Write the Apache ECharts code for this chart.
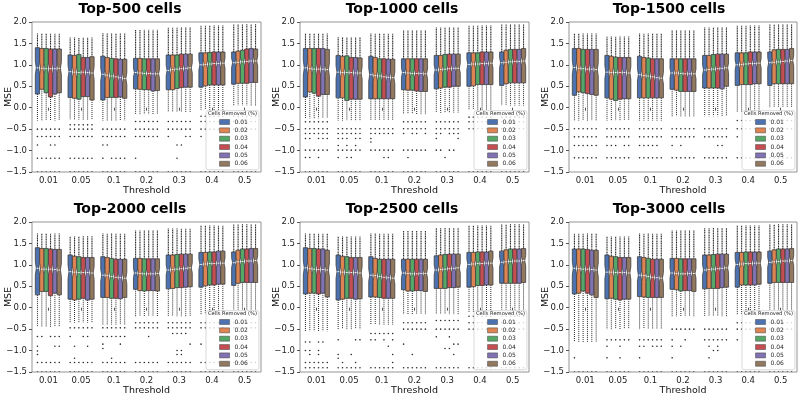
<!DOCTYPE html>
<html><head><meta charset="utf-8">
<script src="https://cdn.jsdelivr.net/npm/echarts@6/dist/echarts.min.js"></script>
<style>html,body{margin:0;padding:0;background:#fff}#c{width:800px;height:400px}</style>
</head><body><div id="c"></div>
<script>
// ---------------- data ----------------
const thresholds = ['0.01', '0.05', '0.1', '0.2', '0.3', '0.4', '0.5'];
const removed = ['0.01', '0.02', '0.03', '0.04', '0.05', '0.06'];
const titles = ['Top-500 cells', 'Top-1000 cells', 'Top-1500 cells', 'Top-2000 cells', 'Top-2500 cells', 'Top-3000 cells'];
const legendTitle = 'Cells Removed (%)';
const xName = 'Threshold';
const yName = 'MSE';
const SAMPLE_N = 110; // sample size used for notch width (1.57*IQR/sqrt(n))

// rows = thresholds, columns = cells removed
const q3_500 = [[1.40,1.38,1.38,1.37,1.37,1.37],[1.23,1.22,1.24,1.17,1.17,1.19],[1.20,1.17,1.15,1.14,1.13,1.13],[1.15,1.15,1.14,1.14,1.14,1.14],[1.23,1.23,1.23,1.25,1.25,1.25],[1.28,1.28,1.29,1.30,1.30,1.30],[1.30,1.32,1.34,1.37,1.38,1.37]];
const med_500 = [[0.93,0.92,0.91,0.91,0.91,0.92],[0.84,0.83,0.82,0.83,0.82,0.81],[0.78,0.76,0.74,0.72,0.70,0.68],[0.82,0.81,0.80,0.80,0.79,0.79],[0.87,0.89,0.90,0.91,0.92,0.93],[1.00,1.01,1.02,1.03,1.03,1.04],[1.05,1.06,1.07,1.08,1.09,1.09]];
const q1_500 = [[0.32,0.43,0.35,0.25,0.32,0.35],[0.24,0.22,0.20,0.26,0.26,0.18],[0.18,0.24,0.24,0.24,0.25,0.22],[0.44,0.43,0.42,0.42,0.39,0.40],[0.42,0.42,0.45,0.47,0.48,0.48],[0.48,0.51,0.53,0.53,0.53,0.53],[0.55,0.57,0.57,0.57,0.59,0.59]];
const hi_500 = [1.73,1.64,1.74,1.82,1.87,1.92,1.95];
const lo_500 = [-0.30,-0.28,-0.30,-0.15,-0.10,-0.05,0.05];
const sparse_500 = [[0,-0.50,'111111'],[0,-0.67,'111111'],[0,-0.87,'100110'],[0,-1.18,'111111'],[0,-1.5,'111111'],
  [1,-0.40,'111111'],[1,-0.50,'111111'],[1,-0.67,'111111'],[1,-1.18,'111111'],[1,-1.5,'111111'],
  [2,-0.50,'111111'],[2,-0.67,'111111'],[2,-0.87,'110000'],[2,-1.18,'101111'],[2,-1.5,'111111'],
  [3,-0.32,'111111'],[3,-0.50,'111111'],[3,-0.67,'111111'],[3,-1.18,'100000'],[3,-1.5,'111111'],
  [4,-0.32,'111111'],[4,-0.50,'111111'],[4,-0.67,'100011'],[4,-0.87,'001100'],[4,-1.18,'001000'],[4,-1.5,'111111'],
  [5,-0.20,'111111'],[5,-0.32,'111111'],[5,-0.50,'111111'],[5,-0.67,'100000'],[5,-1.5,'111111'],
  [6,-0.20,'111111'],[6,-0.32,'111111'],[6,-0.50,'111111'],[6,-1.5,'111111']];

const q3_1000 = [[1.38,1.38,1.38,1.38,1.38,1.36],[1.22,1.20,1.21,1.17,1.17,1.16],[1.20,1.17,1.14,1.14,1.13,1.13],[1.14,1.14,1.14,1.14,1.14,1.14],[1.22,1.22,1.24,1.25,1.25,1.25],[1.28,1.28,1.28,1.30,1.30,1.30],[1.30,1.34,1.36,1.36,1.36,1.38]];
const med_1000 = [[0.93,0.91,0.90,0.90,0.90,0.89],[0.83,0.82,0.82,0.82,0.81,0.81],[0.77,0.75,0.74,0.72,0.71,0.70],[0.82,0.81,0.80,0.80,0.80,0.79],[0.88,0.89,0.90,0.91,0.92,0.92],[1.01,1.02,1.02,1.03,1.03,1.04],[1.05,1.06,1.07,1.08,1.08,1.09]];
const q1_1000 = [[0.25,0.37,0.34,0.27,0.31,0.31],[0.23,0.23,0.17,0.20,0.20,0.20],[0.21,0.21,0.21,0.21,0.21,0.21],[0.42,0.41,0.41,0.39,0.38,0.38],[0.44,0.46,0.48,0.48,0.50,0.50],[0.50,0.51,0.54,0.54,0.54,0.54],[0.52,0.56,0.58,0.58,0.58,0.58]];
const hi_1000 = [1.73,1.65,1.73,1.81,1.87,1.92,1.95];
const lo_1000 = [-0.25,-0.30,-0.30,-0.15,-0.12,-0.05,0.05];
const sparse_1000 = [[0,-0.33,'111111'],[0,-0.49,'111111'],[0,-0.60,'111111'],[0,-0.72,'110111'],[0,-0.99,'111111'],[0,-1.16,'110100'],[0,-1.5,'111111'],
  [1,-0.49,'111111'],[1,-0.60,'111111'],[1,-0.72,'111011'],[1,-0.88,'101010'],[1,-0.99,'111111'],[1,-1.16,'101100'],[1,-1.5,'111111'],
  [2,-0.49,'111111'],[2,-0.60,'111111'],[2,-0.72,'100000'],[2,-0.80,'100000'],[2,-0.99,'111111'],[2,-1.16,'000110'],[2,-1.5,'111111'],
  [3,-0.33,'111111'],[3,-0.49,'111111'],[3,-0.60,'101101'],[3,-0.99,'111111'],[3,-1.16,'010000'],[3,-1.5,'111111'],
  [4,-0.33,'111111'],[4,-0.49,'111111'],[4,-0.60,'110111'],[4,-0.72,'100001'],[4,-0.99,'110110'],[4,-1.16,'001000'],[4,-1.5,'111111'],
  [5,-0.22,'111111'],[5,-0.33,'111111'],[5,-0.49,'111111'],[5,-1.5,'111111'],
  [6,-0.22,'111111'],[6,-0.33,'111111'],[6,-0.49,'111111'],[6,-1.5,'111111']];

const q3_1500 = [[1.38,1.38,1.36,1.36,1.36,1.36],[1.22,1.20,1.18,1.17,1.17,1.17],[1.20,1.17,1.16,1.14,1.14,1.14],[1.14,1.14,1.14,1.14,1.14,1.14],[1.22,1.22,1.24,1.25,1.25,1.25],[1.28,1.28,1.28,1.30,1.30,1.30],[1.30,1.35,1.36,1.36,1.36,1.38]];
const med_1500 = [[0.94,0.92,0.91,0.90,0.90,0.89],[0.83,0.82,0.82,0.82,0.82,0.81],[0.77,0.75,0.74,0.72,0.70,0.69],[0.81,0.81,0.80,0.79,0.79,0.79],[0.88,0.89,0.90,0.91,0.92,0.93],[1.00,1.01,1.02,1.03,1.03,1.04],[1.05,1.06,1.07,1.08,1.09,1.10]];
const q1_1500 = [[0.29,0.37,0.35,0.33,0.31,0.29],[0.23,0.20,0.17,0.20,0.21,0.21],[0.23,0.23,0.23,0.23,0.23,0.23],[0.43,0.41,0.38,0.38,0.38,0.38],[0.46,0.46,0.46,0.46,0.44,0.50],[0.52,0.54,0.54,0.54,0.56,0.56],[0.52,0.56,0.56,0.56,0.56,0.56]];
const hi_1500 = [1.73,1.66,1.73,1.81,1.87,1.92,1.95];
const lo_1500 = [-0.30,-0.30,-0.30,-0.20,-0.20,-0.10,0.00];
const sparse_1500 = [[0,-0.49,'111111'],[0,-0.68,'111111'],[0,-0.88,'111111'],[0,-1.17,'111111'],
  [1,-0.49,'111111'],[1,-0.68,'111111'],[1,-0.88,'111011'],[1,-1.17,'111111'],
  [2,-0.49,'111111'],[2,-0.68,'111111'],[2,-0.88,'111110'],[2,-1.17,'111111'],
  [3,-0.49,'111111'],[3,-0.68,'111111'],[3,-0.88,'101000'],[3,-1.17,'111111'],
  [4,-0.49,'111111'],[4,-0.68,'111111'],[4,-0.88,'000110'],[4,-1.17,'111111'],
  [5,-0.30,'111111'],[5,-0.49,'111111'],[5,-0.68,'100000'],[5,-1.17,'111111'],
  [6,-0.30,'111111'],[6,-0.49,'111111'],[6,-1.17,'111111']];

const q3_2000 = [[1.40,1.38,1.38,1.37,1.36,1.36],[1.23,1.20,1.19,1.17,1.17,1.17],[1.19,1.17,1.15,1.13,1.13,1.13],[1.15,1.15,1.14,1.14,1.14,1.14],[1.23,1.23,1.24,1.25,1.25,1.25],[1.29,1.29,1.30,1.30,1.32,1.32],[1.30,1.34,1.37,1.37,1.38,1.38]];
const med_2000 = [[0.92,0.90,0.90,0.90,0.89,0.88],[0.84,0.83,0.82,0.82,0.82,0.81],[0.76,0.75,0.73,0.71,0.70,0.69],[0.81,0.80,0.79,0.79,0.79,0.80],[0.88,0.89,0.90,0.91,0.92,0.93],[1.01,1.02,1.03,1.03,1.04,1.04],[1.05,1.07,1.08,1.09,1.09,1.10]];
const q1_2000 = [[0.30,0.38,0.38,0.28,0.34,0.30],[0.20,0.18,0.20,0.22,0.18,0.20],[0.24,0.24,0.22,0.22,0.21,0.24],[0.43,0.40,0.39,0.40,0.40,0.39],[0.44,0.45,0.47,0.47,0.48,0.49],[0.48,0.51,0.53,0.53,0.55,0.55],[0.52,0.57,0.59,0.59,0.59,0.59]];
const hi_2000 = [1.73,1.67,1.73,1.80,1.85,1.92,1.95];
const lo_2000 = [-0.45,-0.35,-0.40,-0.20,-0.20,-0.15,-0.05];
const sparse_2000 = [[0,-0.67,'110111'],[0,-0.90,'100011'],[0,-1.01,'100000'],[0,-1.09,'100000'],[0,-1.28,'111111'],[0,-1.5,'111111'],
  [1,-0.47,'111111'],[1,-0.67,'100110'],[1,-0.90,'010010'],[1,-1.18,'010000'],[1,-1.28,'111111'],[1,-1.5,'111111'],
  [2,-0.47,'111111'],[2,-0.67,'111111'],[2,-0.85,'100010'],[2,-0.95,'100000'],[2,-1.18,'001000'],[2,-1.28,'111111'],[2,-1.5,'111111'],
  [3,-0.35,'111111'],[3,-0.47,'111111'],[3,-0.67,'000100'],[3,-1.28,'111111'],[3,-1.5,'111111'],
  [4,-0.35,'111111'],[4,-0.47,'111111'],[4,-0.60,'011110'],[4,-0.85,'000001'],[4,-1.00,'001100'],[4,-1.09,'001100'],[4,-1.28,'111111'],[4,-1.5,'111111'],
  [5,-0.35,'111111'],[5,-0.47,'111111'],[5,-0.85,'100000'],[5,-1.28,'111111'],[5,-1.5,'111111'],
  [6,-0.35,'111111'],[6,-0.47,'111111'],[6,-1.28,'111111'],[6,-1.5,'111111']];

const q3_2500 = [[1.40,1.38,1.38,1.37,1.37,1.34],[1.23,1.20,1.19,1.17,1.17,1.17],[1.19,1.15,1.13,1.13,1.13,1.13],[1.13,1.13,1.13,1.13,1.13,1.13],[1.21,1.23,1.24,1.25,1.25,1.25],[1.29,1.29,1.30,1.30,1.30,1.32],[1.32,1.35,1.37,1.37,1.37,1.38]];
const med_2500 = [[0.93,0.91,0.90,0.89,0.89,0.88],[0.84,0.83,0.82,0.82,0.82,0.81],[0.76,0.75,0.73,0.71,0.70,0.69],[0.81,0.80,0.79,0.79,0.80,0.80],[0.88,0.89,0.90,0.91,0.92,0.93],[1.01,1.02,1.03,1.03,1.04,1.04],[1.06,1.07,1.08,1.09,1.09,1.10]];
const q1_2500 = [[0.32,0.34,0.34,0.32,0.34,0.25],[0.18,0.20,0.22,0.22,0.20,0.21],[0.25,0.25,0.24,0.22,0.22,0.22],[0.42,0.39,0.39,0.40,0.40,0.38],[0.45,0.45,0.45,0.47,0.47,0.48],[0.48,0.49,0.52,0.52,0.53,0.53],[0.57,0.57,0.57,0.57,0.57,0.59]];
const hi_2500 = [1.73,1.66,1.73,1.80,1.86,1.92,1.95];
const lo_2500 = [-0.55,-0.50,-0.40,-0.15,-0.15,-0.10,-0.05];
const sparse_2500 = [[0,-0.80,'110110'],[0,-1.00,'110100'],[0,-1.09,'010100'],[0,-1.28,'111111'],[0,-1.40,'111111'],
  [1,-0.75,'100011'],[1,-1.09,'100100'],[1,-1.18,'100000'],[1,-1.28,'010010'],[1,-1.40,'111111'],
  [2,-0.60,'111111'],[2,-0.75,'110101'],[2,-0.90,'000010'],[2,-1.09,'000001'],[2,-1.28,'000001'],[2,-1.40,'111111'],
  [3,-0.35,'111111'],[3,-0.50,'111111'],[3,-0.85,'100000'],[3,-1.09,'001000'],[3,-1.40,'111111'],
  [4,-0.30,'111111'],[4,-0.50,'111111'],[4,-0.68,'100100'],[4,-0.85,'000011'],[4,-0.95,'001100'],[4,-1.09,'000010'],[4,-1.40,'111111'],
  [5,-0.20,'111111'],[5,-0.35,'111111'],[5,-0.50,'111111'],[5,-1.40,'111111'],
  [6,-0.20,'111111'],[6,-0.35,'111111'],[6,-0.50,'111111'],[6,-1.40,'111111']];

const q3_3000 = [[1.37,1.37,1.37,1.36,1.34,1.34],[1.23,1.20,1.19,1.17,1.17,1.17],[1.19,1.17,1.15,1.13,1.13,1.13],[1.15,1.15,1.14,1.14,1.14,1.14],[1.23,1.23,1.24,1.25,1.25,1.25],[1.29,1.29,1.30,1.30,1.30,1.30],[1.32,1.35,1.37,1.37,1.37,1.38]];
const med_3000 = [[0.92,0.91,0.90,0.90,0.89,0.88],[0.83,0.83,0.82,0.82,0.82,0.81],[0.76,0.75,0.73,0.71,0.70,0.69],[0.81,0.80,0.79,0.79,0.80,0.80],[0.88,0.89,0.90,0.91,0.92,0.93],[1.01,1.02,1.03,1.03,1.04,1.04],[1.06,1.07,1.08,1.09,1.09,1.10]];
const q1_3000 = [[0.32,0.34,0.39,0.34,0.30,0.24],[0.21,0.22,0.20,0.18,0.20,0.20],[0.26,0.25,0.24,0.24,0.24,0.24],[0.43,0.42,0.39,0.40,0.40,0.38],[0.44,0.45,0.45,0.45,0.47,0.48],[0.48,0.53,0.53,0.53,0.53,0.55],[0.57,0.59,0.59,0.59,0.59,0.59]];
const hi_3000 = [1.73,1.66,1.73,1.80,1.86,1.92,1.95];
const lo_3000 = [-0.80,-0.50,-0.50,-0.20,-0.20,-0.15,-0.05];
const sparse_3000 = [[0,-1.17,'100000'],[0,-1.5,'111111'],
  [1,-0.75,'111111'],[1,-0.90,'100100'],[1,-1.17,'100100'],[1,-1.5,'111111'],
  [2,-0.75,'111111'],[2,-0.90,'110111'],[2,-1.17,'100000'],[2,-1.5,'111111'],
  [3,-0.50,'111111'],[3,-0.75,'100100'],[3,-0.90,'101000'],[3,-1.17,'100000'],[3,-1.5,'111111'],
  [4,-0.50,'111111'],[4,-0.75,'111111'],[4,-0.90,'010100'],[4,-1.00,'001100'],[4,-1.17,'010000'],[4,-1.5,'111111'],
  [5,-0.35,'111111'],[5,-0.50,'111111'],[5,-0.75,'100000'],[5,-1.5,'111111'],
  [6,-0.35,'111111'],[6,-0.50,'111111'],[6,-1.5,'111111']];

// ---------------- layout / style ----------------
const colors = ['#4c72b0', '#dd8452', '#55a868', '#c44e52', '#8172b3', '#937860'];
const EDGE = '#3f3f3f';
const DOT = '#2a2a2a';
const FONT = 'DejaVu Sans';
const panels = [
  { q1: q1_500, med: med_500, q3: q3_500, hi: hi_500, lo: lo_500, sp: sparse_500 },
  { q1: q1_1000, med: med_1000, q3: q3_1000, hi: hi_1000, lo: lo_1000, sp: sparse_1000 },
  { q1: q1_1500, med: med_1500, q3: q3_1500, hi: hi_1500, lo: lo_1500, sp: sparse_1500 },
  { q1: q1_2000, med: med_2000, q3: q3_2000, hi: hi_2000, lo: lo_2000, sp: sparse_2000 },
  { q1: q1_2500, med: med_2500, q3: q3_2500, hi: hi_2500, lo: lo_2500, sp: sparse_2500 },
  { q1: q1_3000, med: med_3000, q3: q3_3000, hi: hi_3000, lo: lo_3000, sp: sparse_3000 }
];
const colBox = [{ left: 32, width: 229, title: 130 }, { left: 300, width: 229, title: 402 }, { left: 569, width: 228, title: 669 }];
const rowBox = [{ top: 22, height: 150, title: 2 }, { top: 222, height: 150, title: 202 }];

function boxRender(params, api) {
  const gi = api.value(0), hue = api.value(1);
  const q1 = api.value(2), med = api.value(3), q3 = api.value(4), hi = api.value(5), lo = api.value(6);
  const band = api.size([1, 0])[0];
  const slot = band * 0.8 / removed.length;
  const cx = api.coord([gi, med])[0] + (hue - (removed.length - 1) / 2) * slot;
  const half = slot * 0.98 / 2;
  const y = v => api.coord([gi, v])[1];
  const notch = 1.57 * (q3 - q1) / Math.sqrt(SAMPLE_N);
  const nt = Math.min(q3, med + notch), nb = Math.max(q1, med - notch);
  const w2 = half * 0.55;
  const pts = [[cx - half, y(q1)], [cx + half, y(q1)], [cx + half, y(nb)], [cx + w2, y(med)], [cx + half, y(nt)],
    [cx + half, y(q3)], [cx - half, y(q3)], [cx - half, y(nt)], [cx - w2, y(med)], [cx - half, y(nb)]];
  return {
    type: 'group', children: [
      { type: 'line', shape: { x1: cx, y1: y(q3), x2: cx, y2: y(hi) }, style: { stroke: DOT, lineWidth: 1.1, lineDash: [1.2, 0.5] } },
      { type: 'line', shape: { x1: cx, y1: y(q1), x2: cx, y2: y(lo) }, style: { stroke: DOT, lineWidth: 1, lineDash: [1, 1] } },
      { type: 'polygon', shape: { points: pts }, style: { fill: api.visual('color'), stroke: EDGE, lineWidth: 0.8 } },
      { type: 'line', shape: { x1: cx - w2 * 0.7, y1: y(med), x2: cx + w2 * 0.7, y2: y(med) }, style: { stroke: '#ffffff', lineWidth: 1 } }
    ]
  };
}
function dotRender(params, api) {
  const gi = api.value(0), hue = api.value(1), v = api.value(2);
  const band = api.size([1, 0])[0];
  const slot = band * 0.8 / removed.length;
  const p = api.coord([gi, v]);
  return { type: 'circle', shape: { cx: p[0] + (hue - (removed.length - 1) / 2) * slot, cy: p[1], r: 0.8 }, style: { fill: DOT } };
}

const grid = [], xAxis = [], yAxis = [], title = [], legend = [], graphic = [], series = [];
panels.forEach((pn, k) => {
  const c = colBox[k % 3], r = rowBox[Math.floor(k / 3)];
  grid.push({ left: c.left, top: r.top, width: c.width, height: r.height, show: true, borderColor: '#7a7a7a', borderWidth: 0.8, backgroundColor: 'transparent', outerBoundsMode: 'none' });
  xAxis.push({
    type: 'category', gridIndex: k, data: thresholds, boundaryGap: true,
    name: xName, nameLocation: 'middle', nameGap: 14, nameMoveOverlap: false,
    nameTextStyle: { fontSize: 9.5, color: '#111', fontFamily: FONT },
    axisLine: { show: false }, axisTick: { show: true, alignWithLabel: true, length: 3, lineStyle: { color: '#555' } },
    axisLabel: { fontSize: 8.5, color: '#222', margin: 4, fontFamily: FONT, interval: 0 },
    splitLine: { show: false }
  });
  yAxis.push({
    type: 'value', gridIndex: k, min: -1.5, max: 2.0, interval: 0.5,
    name: yName, nameLocation: 'middle', nameGap: 18, nameRotate: 90, nameMoveOverlap: false,
    nameTextStyle: { fontSize: 9.5, color: '#111', fontFamily: FONT },
    axisLine: { show: false }, axisTick: { show: true, length: 3, lineStyle: { color: '#555' } },
    axisLabel: { fontSize: 8.5, color: '#222', margin: 5, fontFamily: FONT,
      formatter: v => (v < 0 ? '\u2212' : '') + Math.abs(v).toFixed(1) },
    splitLine: { show: false }
  });
  title.push({ text: titles[k], left: c.title, top: r.title, textAlign: 'center', padding: 0,
    textStyle: { fontSize: 14, fontWeight: 'bold', color: '#000', fontFamily: FONT } });
  const lgRight = c.left + c.width - 2;
  const lgLeft = lgRight - 53;
  const lgTop = r.top + 88.7;
  legend.push({
    data: removed, orient: 'vertical', left: lgLeft, top: lgTop, icon: 'rect',
    itemWidth: 10, itemHeight: 5, itemGap: 0.35, padding: [7.3, 11, 2, 13.3],
    backgroundColor: 'rgba(255,255,255,0.8)', borderColor: '#cfcfcf', borderWidth: 0.8, borderRadius: 2,
    textStyle: { fontSize: 6, lineHeight: 8, color: '#262626', fontFamily: FONT },
    itemStyle: { borderColor: EDGE, borderWidth: 0.5 },
    selectedMode: false, z: 10
  });
  graphic.push({ type: 'text', x: lgLeft + 26.5, y: lgTop + 3.3, z: 100,
    style: { text: legendTitle, align: 'center', verticalAlign: 'middle', fontSize: 5.2, fill: '#262626', fontFamily: FONT } });

  removed.forEach((name, h) => {
    series.push({
      type: 'custom', name: name, xAxisIndex: k, yAxisIndex: k, clip: true,
      itemStyle: { color: colors[h] },
      encode: { x: 0, y: 3 },
      renderItem: boxRender,
      data: thresholds.map((t, i) => [i, h, pn.q1[i][h], pn.med[i][h], pn.q3[i][h], pn.hi[i], pn.lo[i]])
    });
  });
  const dots = [];
  pn.sp.forEach(([gi, v, mask]) => {
    for (let h = 0; h < removed.length; h++) if (mask[h] === '1') dots.push([gi, h, v]);
  });
  series.push({
    type: 'custom', name: 'outliers', xAxisIndex: k, yAxisIndex: k, clip: true,
    encode: { x: 0, y: 2 }, renderItem: dotRender, data: dots, z: 1
  });
});

const chart = echarts.init(document.getElementById('c'), null, { renderer: 'canvas' });
chart.setOption({
  animation: false,
  textStyle: { fontFamily: FONT },
  title, grid, xAxis, yAxis, legend, graphic, series
});
</script>
</body></html>
